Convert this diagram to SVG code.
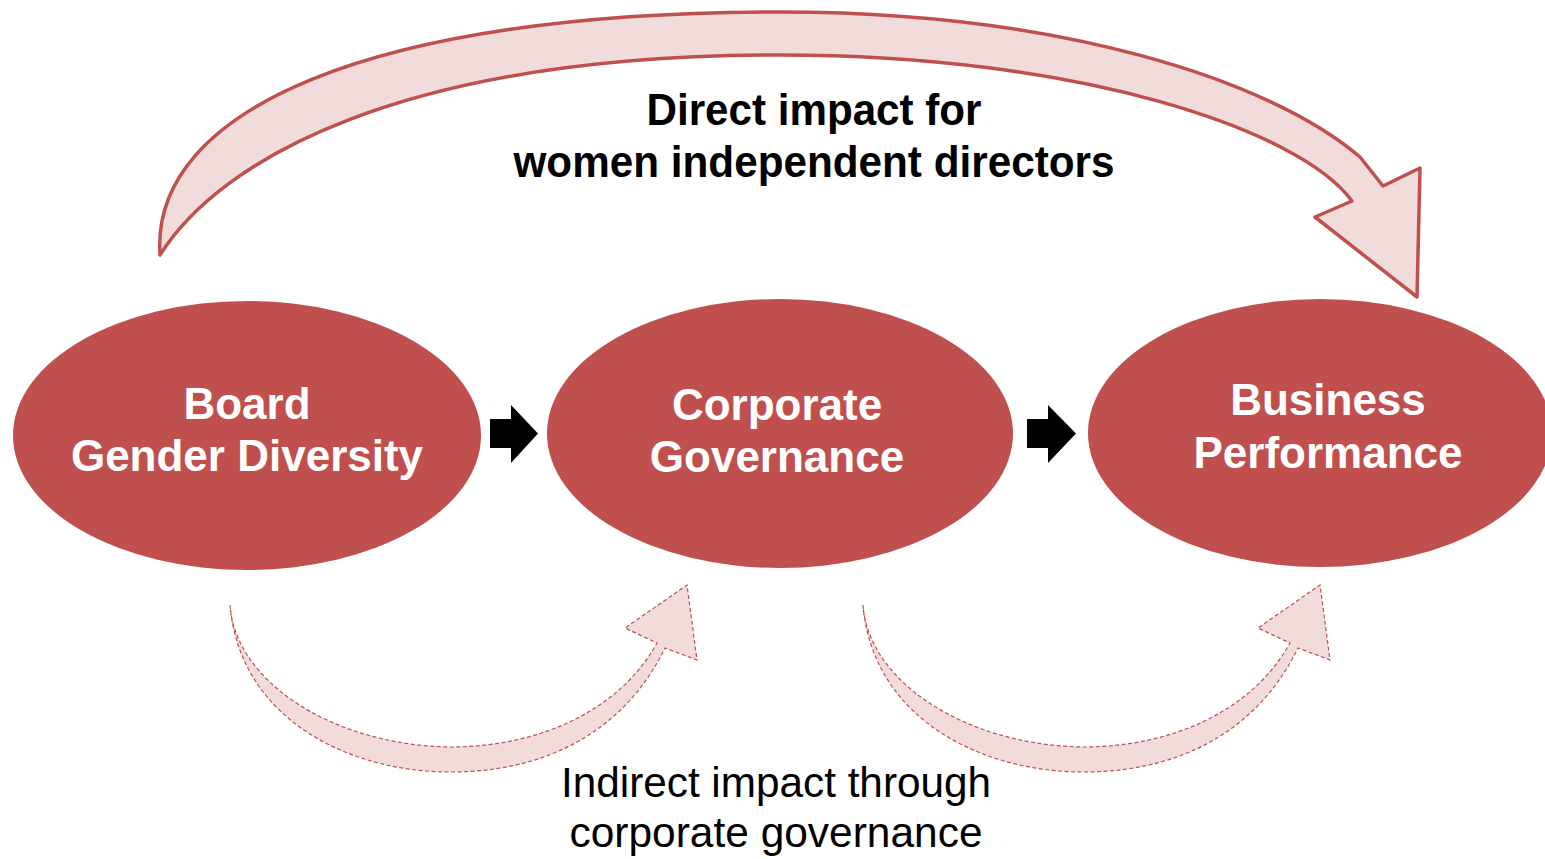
<svg xmlns="http://www.w3.org/2000/svg" width="1545" height="859" viewBox="0 0 1545 859">
<style>
.node{fill:#C0504D}
.nt{fill:#fff;font-family:"Liberation Sans",Arial,sans-serif;font-weight:bold;font-size:44px;text-anchor:middle}
.big{fill:#F2DCDB;stroke:#C0504D;stroke-width:3.5;stroke-linejoin:round}
.dash{fill:#F2DCDB;stroke:#C0504D;stroke-width:1.2;stroke-dasharray:4 2.5}
.blk{fill:#000}
.lbl{fill:#000;font-family:"Liberation Sans",Arial,sans-serif;font-size:42px;text-anchor:middle}
.lblb{fill:#000;font-family:"Liberation Sans",Arial,sans-serif;font-weight:bold;font-size:44px;text-anchor:middle}
</style>
<rect width="1545" height="859" fill="#fff"/>
<g id="connectors">
<path id="direct-arrow" class="big" d="M160,255 C150,110 370,12 780,12 C1060,12 1270,80 1360,157 L1383,186 L1420,168 L1417,297 L1315,217 L1352,201 C1300,130 1080,55 780,55 C400,55 220,160 160,255 Z"/>
<path id="indirect-arrow-1" class="dash" d="M230,605 C240,720 350,772 450,772 C560,772 630,720 665,648 L697,660 L687,585 L625,628 L657,643 C620,710 540,747 450,747 C330,745 235,680 230,605 Z"/>
<path id="indirect-arrow-2" class="dash" transform="translate(633,0)" d="M230,605 C240,720 350,772 450,772 C560,772 630,720 665,648 L697,660 L687,585 L625,628 L657,643 C620,710 540,747 450,747 C330,745 235,680 230,605 Z"/>
<polygon id="arrow-1" class="blk" points="490,419 511,419 511,405 538,433.5 511,463 511,448 490,448"/>
<polygon id="arrow-2" class="blk" points="1027,419 1048,419 1048,405 1076,433.5 1048,463 1048,448 1027,448"/>
</g>
<g id="node-board">
<ellipse class="node" cx="247" cy="435.5" rx="234" ry="134.5"/>
<text class="nt" x="247" y="419">Board</text>
<text class="nt" x="247" y="471">Gender Diversity</text>
</g>
<g id="node-governance">
<ellipse class="node" cx="780" cy="433.5" rx="233" ry="134.5"/>
<text class="nt" x="777" y="420">Corporate</text>
<text class="nt" x="777" y="472">Governance</text>
</g>
<g id="node-performance">
<ellipse class="node" cx="1320" cy="433" rx="232" ry="134"/>
<text class="nt" x="1328" y="415">Business</text>
<text class="nt" x="1328" y="468">Performance</text>
</g>
<g id="label-direct">
<text class="lblb" x="814" y="125" textLength="335" lengthAdjust="spacingAndGlyphs">Direct impact for</text>
<text class="lblb" x="814" y="177" textLength="601" lengthAdjust="spacingAndGlyphs">women independent directors</text>
</g>
<g id="label-indirect">
<text class="lbl" x="776" y="797" textLength="430" lengthAdjust="spacingAndGlyphs">Indirect impact through</text>
<text class="lbl" x="776" y="847" textLength="413" lengthAdjust="spacingAndGlyphs">corporate governance</text>
</g>
</svg>
